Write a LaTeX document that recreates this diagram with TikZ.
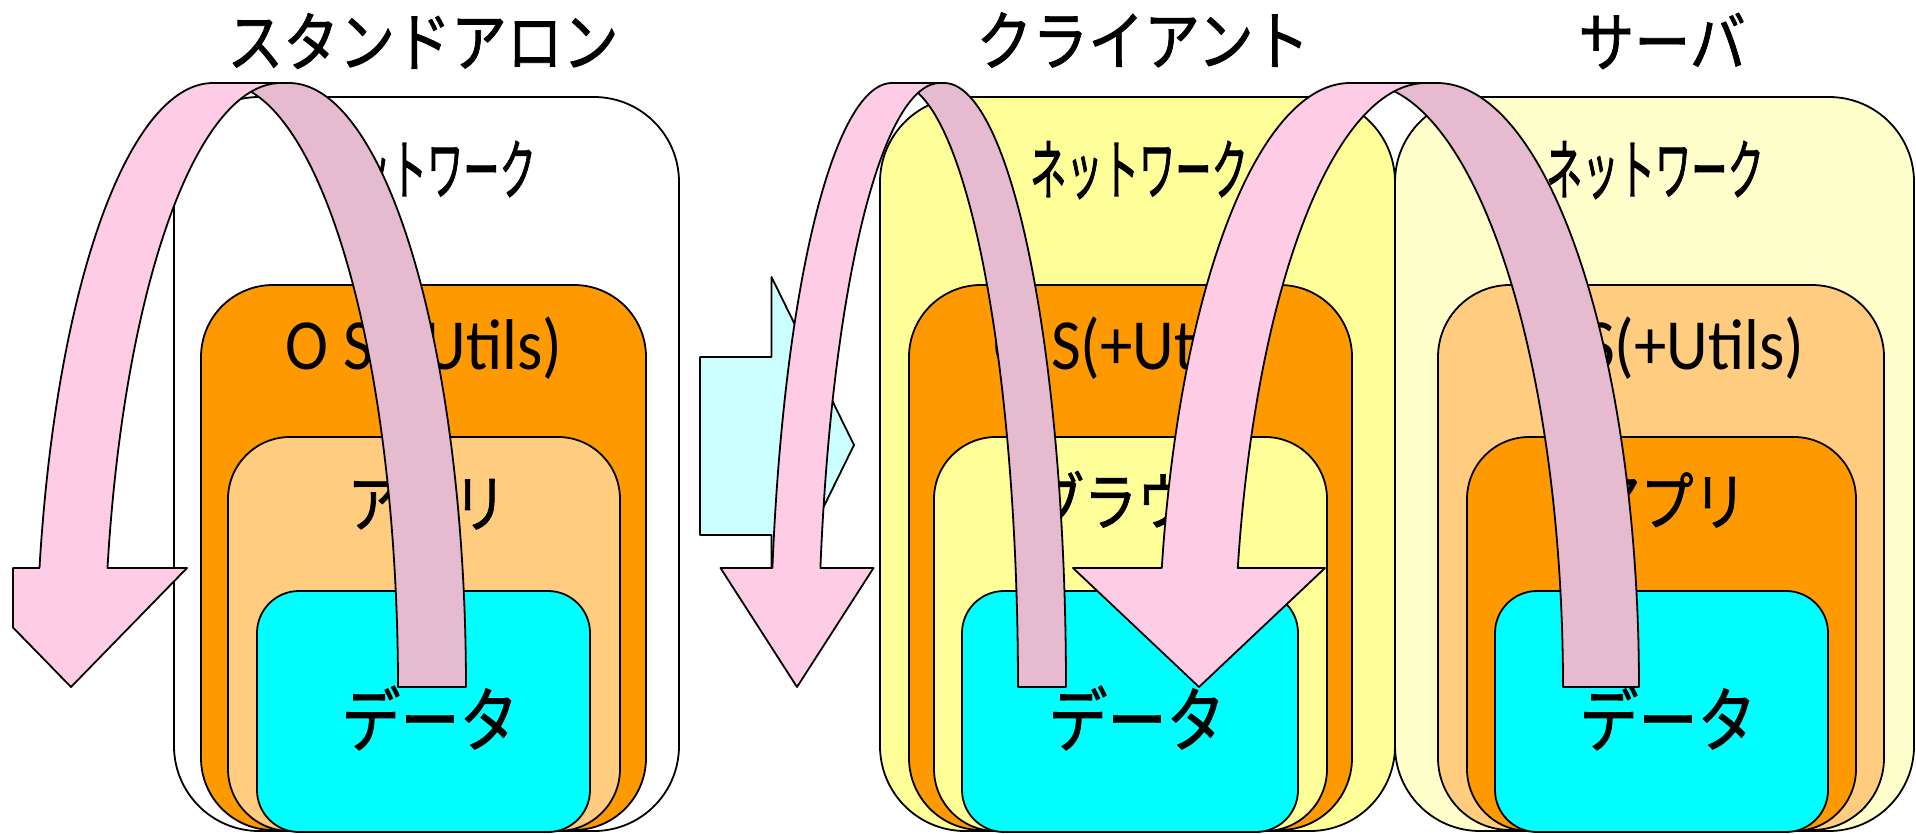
\documentclass[tikz,border=0pt]{standalone}
\usepackage{fontspec}
\usepackage{graphicx}
\newfontfamily\jpfont[FakeBold=1.3]{Noto Sans CJK JP}
\newfontfamily\jpboldfont[FakeBold=1.8]{Noto Sans CJK JP}
\newfontfamily\latfont{Carlito}
\definecolor{pinkL}{HTML}{FFCCE5}
\definecolor{pinkD}{HTML}{E6BBCF}
\definecolor{orangeD}{HTML}{FF9900}
\definecolor{orangeL}{HTML}{FFCC80}
\definecolor{cyanD}{HTML}{00FFFF}
\definecolor{cyanL}{HTML}{CCFFFF}
\definecolor{yelD}{HTML}{FFFF99}
\definecolor{yelL}{HTML}{FFFFCC}
\newcommand\condA[1]{\scalebox{0.86}[1]{#1}}
\newcommand\condB[1]{\scalebox{0.84}[1]{#1}}
\newcommand\condC[1]{\scalebox{0.83}[1]{#1}}
\newcommand\condN[1]{\scalebox{0.55}[1]{#1}}
\newcommand\condO[1]{\scalebox{0.9}[1]{#1}}
% dark (rising) band: #1=cR, #2=aR, #3=w
\newcommand\darkband[3]{%
  \filldraw[arrowline, fill=pinkD] plot[domain=0:90,samples=90] ({#1-#3+#2*cos(\x)},{687-604*sin(\x)})
    -- ({#1},83) -- plot[domain=90:0,samples=90] ({#1+#2*cos(\x)},{687-604*sin(\x)}) -- cycle;}
% light (descending) band with head: #1=cL, #2=aL, #3=w, #4=head path
\newcommand\lightband[4]{%
  \filldraw[arrowline, fill=pinkL] plot[domain=168.636:90,samples=90] ({#1+#2*cos(\x)},{687-604*sin(\x)})
    -- ({#1+#3},83) -- plot[domain=90:168.636,samples=90] ({#1+#3+#2*cos(\x)},{687-604*sin(\x)})
    #4 -- cycle;}
\begin{document}
\begin{tikzpicture}[x=1pt,y=-1pt,line join=round,
  box/.style={draw=black,line width=1.8pt},
  arrowline/.style={draw=black,line width=1.8pt},
  ttl/.style={inner sep=0pt,font=\jpfont\fontsize{65}{65}\selectfont},
  netlbl/.style={inner sep=0pt,font=\jpboldfont\fontsize{66}{66}\selectfont},
  oslbl/.style={inner sep=0pt,font=\latfont\fontsize{72}{72}\selectfont},
  midlbl/.style={inner sep=0pt,font=\jpfont\fontsize{63}{63}\selectfont},
  datalbl/.style={inner sep=0pt,font=\jpfont\fontsize{71}{71}\selectfont}]
\useasboundingbox[fill=white] (0,0) rectangle (1916,833);

% ---------- standalone ----------
\filldraw[box,fill=white,rounded corners=85pt] (174,97) rectangle (679,831);
\filldraw[box,fill=orangeD,rounded corners=72pt] (201,285) rectangle (646,830);
\filldraw[box,fill=orangeL,rounded corners=62pt] (228,437) rectangle (620,831);
\filldraw[box,fill=cyanD,rounded corners=42pt] (257,591) rectangle (590,832);
\node[ttl] (t1) at (423,41) {\condA{スタンドアロン}};
\node[netlbl] (n1) at (427,170) {\condN{ネットワーク}};
\node[oslbl] (o1) at (424,348) {\condO{O S(+Utils)}};
\node[midlbl] (m1) at (427,502) {\condB{アプリ}};
\node[datalbl] (d1) at (430,718) {\condC{データ}};

% ---------- client ----------
\filldraw[box,fill=yelD,rounded corners=85pt] (880,97) rectangle (1395,831);
\filldraw[box,fill=orangeD,rounded corners=72pt] (909,285) rectangle (1352,830);
\filldraw[box,fill=yelD,rounded corners=62pt] (934,437) rectangle (1327,831);
\filldraw[box,fill=cyanD,rounded corners=42pt] (962,591) rectangle (1298,832);
\node[ttl] (t2) at (1143,40) {\condA{クライアント}};
\node[netlbl] (n2) at (1139,170) {\condN{ネットワーク}};
\node[oslbl] (o2) at (1132,348) {\condO{O S(+Utils)}};
\node[midlbl] (m2) at (1137,500) {\condB{ブラウザ}};
\node[datalbl] (d2) at (1137,718) {\condC{データ}};

% ---------- server ----------
\filldraw[box,fill=yelL,rounded corners=85pt] (1395,97) rectangle (1914,831);
\filldraw[box,fill=orangeL,rounded corners=72pt] (1438,285) rectangle (1884,830);
\filldraw[box,fill=orangeD,rounded corners=62pt] (1467,437) rectangle (1856,831);
\filldraw[box,fill=cyanD,rounded corners=42pt] (1495,591) rectangle (1828,832);
\node[ttl] (t3) at (1662,41) {\condA{サーバ}};
\node[netlbl] (n3) at (1655,170) {\condN{ネットワーク}};
\node[oslbl] (o3) at (1666,348) {\condO{O S(+Utils)}};
\node[midlbl] (m3) at (1667,500) {\condB{アプリ}};
\node[datalbl] (d3) at (1668,718) {\condC{データ}};

% ---------- block arrow (standalone -> client/server) ----------
\filldraw[box,fill=cyanL] (700,357) -- (771.5,357) -- (771.5,277) -- (854,445)
  -- (771.5,613) -- (771.5,535) -- (700,535) -- cycle;

% ---------- curved arrows ----------
\darkband{289}{177}{68}
\lightband{213}{177}{68}{-- (187,568) -- (71,687) -- (13,627.5) -- (13,568)}

\darkband{944}{122}{48}
\lightband{892}{122}{48}{-- (873.5,568) -- (797,687) -- (720.5,568)}

\darkband{1437}{202}{76}
\lightband{1350}{192}{76}{-- (1325,568) -- (1199,687) -- (1073,568)}
\end{tikzpicture}
\end{document}
